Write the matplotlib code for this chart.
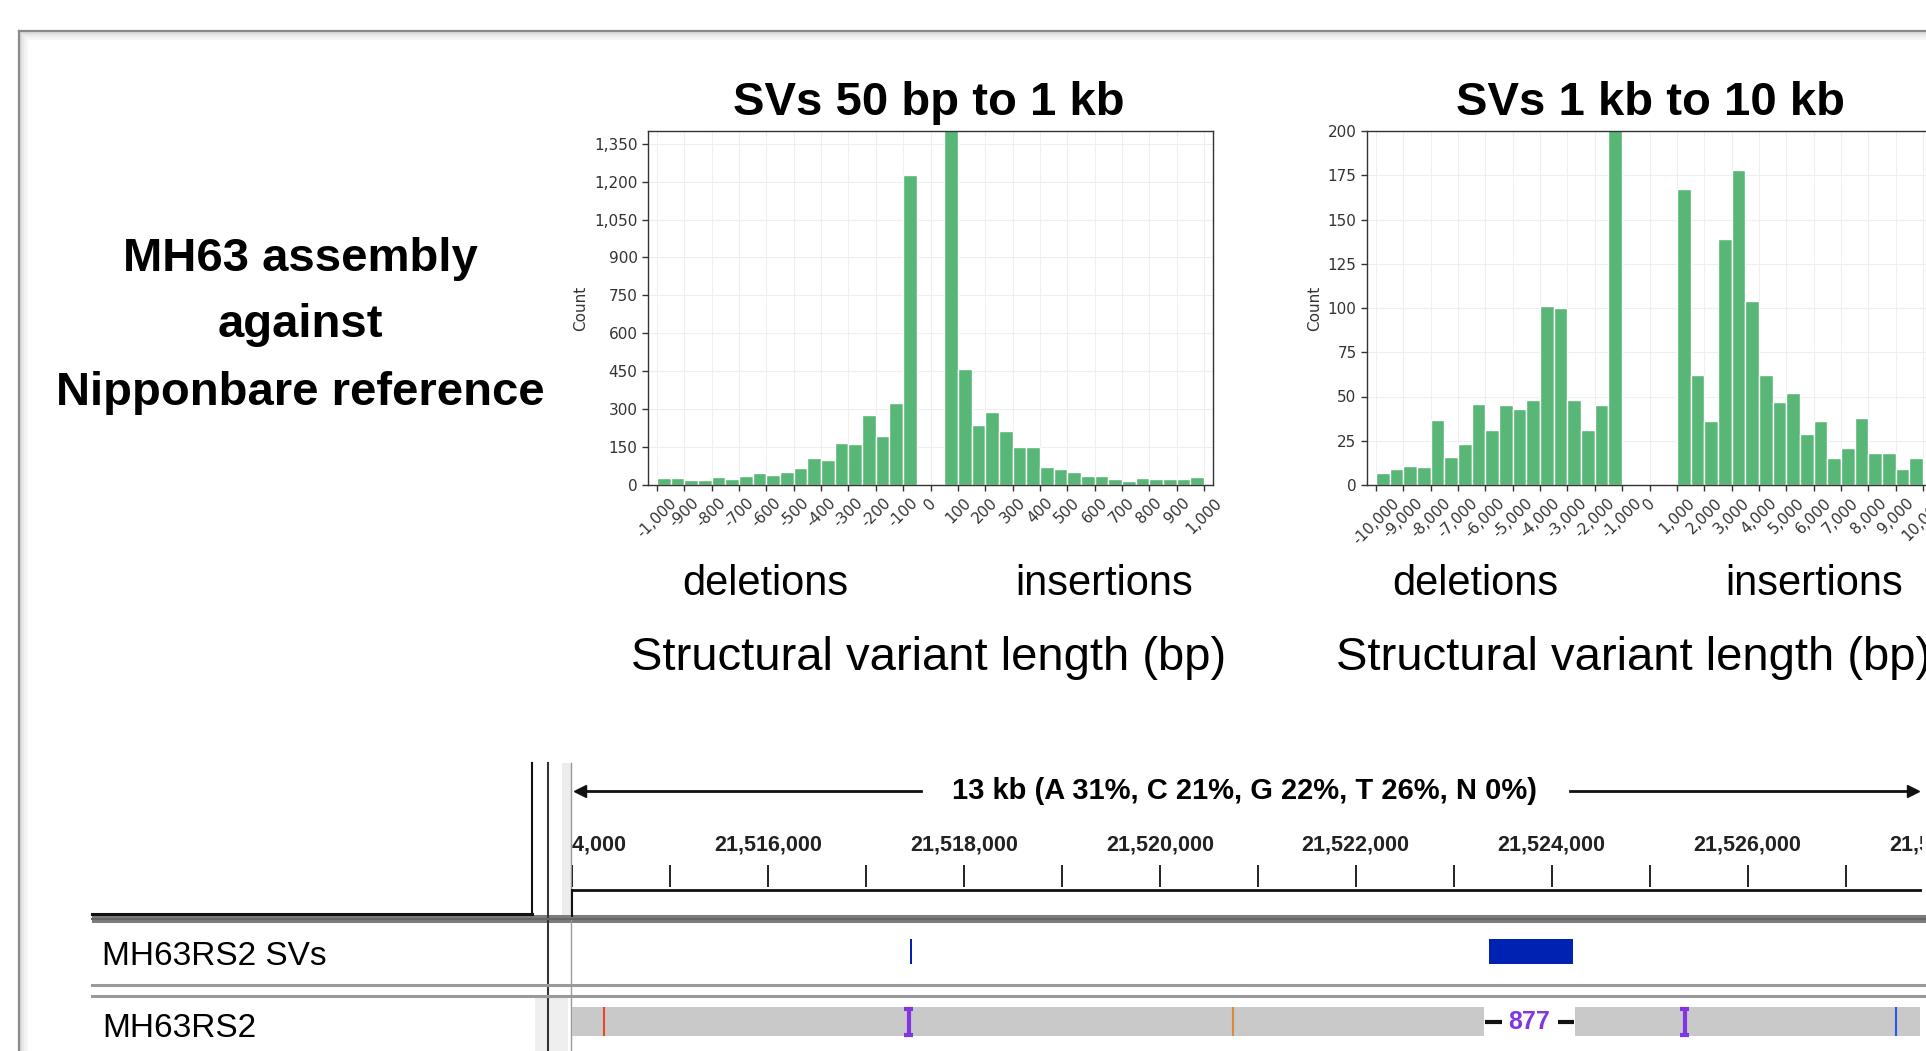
import numpy as np
import matplotlib
matplotlib.use('Agg')
import matplotlib.pyplot as plt
from matplotlib.ticker import FuncFormatter, MultipleLocator

# histogram counts, 50 bp bins (deletions -1000..-50, insertions 50..1000)
small_del_counts = [26, 26, 18, 18, 32, 22, 37, 46, 41, 51, 66, 108, 99, 166, 161, 277, 195, 324, 1226]
small_ins_counts = [1600, 459, 239, 290, 214, 150, 150, 70, 65, 51, 37, 37, 22, 17, 26, 22, 22, 22, 32]
# 500 bp bins (deletions -10000..-1000, insertions 1000..10000)
large_del_counts = [7, 9, 11, 10, 37, 16, 23, 46, 31, 45, 43, 48, 101, 100, 48, 31, 45, 260]
large_ins_counts = [167, 62, 36, 139, 178, 104, 62, 47, 52, 29, 36, 15, 21, 38, 18, 18, 9, 15]

# IGV view
view_start, view_end = 21514000, 21527780
ruler_label = '13 kb (A 31%, C 21%, G 22%, T 26%, N 0%)'
sv_starts = [21517455, 21523365]
sv_ends = [21517470, 21524215]
aln_blocks = [(21514000, 21523310), (21524240, 21527760)]
gap_label = '877'
mismatch_pos = [21514330, 21520748, 21527510]
mismatch_col = ['#e8452a', '#d98a3a', '#2a55e0']
ins_pos = [21517435, 21525358]

W, H = 1926, 1051
GREEN = '#58b677'
PURPLE = '#8236e2'
ARIAL = 'Liberation Sans'

fig = plt.figure(figsize=(W / 100, H / 100), dpi=100)


def px_axes(x0, y0, x1, y1):
    return fig.add_axes([x0 / W, 1 - y1 / H, (x1 - x0) / W, (y1 - y0) / H])


# background / overlay axes in pixel coordinates
bg = px_axes(0, 0, W, H)
bg.set_xlim(0, W)
bg.set_ylim(H, 0)
bg.axis('off')

# slide frame with soft shadow
for off, c in [(2, '#dcdcdc'), (4, '#e8e8e8'), (6, '#f1f1f1'), (8, '#f7f7f7')]:
    bg.plot([19 + off, W], [31 + off, 31 + off], color=c, lw=1.5)
    bg.plot([19 + off, 19 + off], [31 + off, H], color=c, lw=1.5)
bg.plot([19, W], [31, 31], color='#8a8a8a', lw=1.6)
bg.plot([19, 19], [31, H], color='#8a8a8a', lw=1.6)

# left caption
for txt, yb in [('MH63 assembly', 271), ('against', 337), ('Nipponbare reference', 405)]:
    bg.text(300, yb, txt, ha='center', va='baseline', fontsize=34, fontweight='bold', family=ARIAL)


def fmt(v, pos):
    return f'{int(round(v)):,}'


def hist_panel(ax, del_counts, ins_counts, width, del_start, ins_start, xmax, xstep, ymax, ystep):
    del_x = del_start + width * np.arange(len(del_counts))
    ins_x = ins_start + width * np.arange(len(ins_counts))
    ax.bar(del_x, del_counts, width=width, align='edge', color=GREEN, edgecolor='white', linewidth=1, zorder=2)
    ax.bar(ins_x, ins_counts, width=width, align='edge', color=GREEN, edgecolor='white', linewidth=1, zorder=2)
    ax.set_xlim(-xmax * 1.033, xmax * 1.033)
    ax.set_ylim(0, ymax)
    ax.xaxis.set_major_locator(MultipleLocator(xstep))
    ax.yaxis.set_major_locator(MultipleLocator(ystep))
    ax.xaxis.set_major_formatter(FuncFormatter(fmt))
    ax.yaxis.set_major_formatter(FuncFormatter(fmt))
    ax.grid(True, color='#efefef', lw=0.8, zorder=0)
    ax.set_axisbelow(True)
    for s in ax.spines.values():
        s.set_color('#333333')
        s.set_linewidth(1)
    ax.tick_params(direction='out', length=4, width=1, color='#333333', labelsize=11, labelcolor='#333333')
    plt.setp(ax.get_xticklabels(), rotation=45)
    ax.set_ylabel('Count', fontsize=11, color='#333333')


ax1 = px_axes(648, 131, 1213, 485)
hist_panel(ax1, small_del_counts, small_ins_counts, 50, -1000, 50, 1000, 100, 1400, 150)
ax2 = px_axes(1367, 131, 1932, 485)
hist_panel(ax2, large_del_counts, large_ins_counts, 500, -10000, 1000, 10000, 1000, 200, 25)

bg.text(929, 115, 'SVs 50 bp to 1 kb', ha='center', va='baseline', fontsize=34, fontweight='bold', family=ARIAL)
bg.text(1650, 115, 'SVs 1 kb to 10 kb', ha='center', va='baseline', fontsize=34, fontweight='bold', family=ARIAL)
for xd, xi in [(765, 1104), (1475, 1814)]:
    bg.text(xd, 595, 'deletions', ha='center', va='baseline', fontsize=30, family=ARIAL)
    bg.text(xi, 595, 'insertions', ha='center', va='baseline', fontsize=30, family=ARIAL)
bg.text(929, 670, 'Structural variant length (bp)', ha='center', va='baseline', fontsize=34, family=ARIAL)
bg.text(1336, 670, 'Structural variant length (bp)', ha='left', va='baseline', fontsize=34, family=ARIAL)

# ---- IGV panel chrome (pixel coords) ----
bg.add_patch(plt.Rectangle((562, 763), 9, 152, color='#ececec', lw=0))
bg.add_patch(plt.Rectangle((535, 997), 33, 54, color='#efefef', lw=0))
bg.plot([532, 532], [763, 915], color='#111111', lw=1.5)
bg.plot([548, 548], [763, H], color='#333333', lw=1.5)
bg.plot([571, 571], [763, H], color='#9a9a9a', lw=1)
bg.plot([572, 572], [890, 916], color='#111111', lw=1.5)
bg.plot([92, 532], [914, 914], color='#111111', lw=2.2)
bg.add_patch(plt.Rectangle((92, 915), W - 92, 8, color='#7c7c7c', lw=0))
bg.plot([92, W], [919, 919], color='#666666', lw=1.5)
bg.plot([92, W], [984.5, 984.5], color='#9a9a9a', lw=2.2)
bg.plot([92, W], [995.5, 995.5], color='#9a9a9a', lw=2.2)
# ruler span arrow
bg.plot([577, 921], [791, 791], color='#111111', lw=2)
bg.plot([1570, 1916], [791, 791], color='#111111', lw=2)
bg.plot([580], [791], marker='<', color='#111111', ms=8)
bg.plot([1913], [791], marker='>', color='#111111', ms=8)
bg.text(1245, 791, ruler_label, ha='center', va='center', fontsize=21, fontweight='bold', family=ARIAL)

bg.text(102, 965, 'MH63RS2 SVs', ha='left', va='baseline', fontsize=24, family=ARIAL)
bg.text(102, 1037, 'MH63RS2', ha='left', va='baseline', fontsize=24, family=ARIAL)

# ---- IGV genomic axes (x in bp, y in pixel rows) ----
gax = px_axes(572, 763, 1922, H)
gax.set_xlim(view_start, view_end)
gax.set_ylim(H, 763)
gax.axis('off')
gax.patch.set_alpha(0)

ticks = np.arange(view_start, view_end + 2000, 1000)
gax.vlines(ticks, 865, 887, color='#111111', lw=1.3)
gax.hlines(890, view_start, view_end, color='#111111', lw=2)
for t in ticks[::2]:
    gax.text(t, 851, f'{t:,}', ha='center', va='baseline', fontsize=15.5, fontweight='bold',
             family=ARIAL, color='#222222', clip_on=True)

gax.broken_barh([(s, e - s) for s, e in zip(sv_starts, sv_ends)], (939, 25), facecolors='#0022b2')

gax.broken_barh([(s, e - s) for s, e in aln_blocks], (1007, 29), facecolors='#c9c9c9')
gap_l, gap_r = aln_blocks[0][1], aln_blocks[1][0]
gax.hlines([1022, 1022], [gap_l + 10, gap_r - 180], [gap_l + 180, gap_r - 10], color='#111111', lw=3)
gax.text((gap_l + gap_r) / 2, 1022, gap_label, ha='center', va='center', fontsize=18,
         fontweight='bold', family=ARIAL, color=PURPLE)
gax.vlines(mismatch_pos, 1007, 1036, colors=mismatch_col, lw=1.5)
gax.vlines(ins_pos, 1008, 1035, color=PURPLE, lw=3)
for p in ins_pos:
    gax.hlines([1008.5, 1034.5], p - 45, p + 45, color=PURPLE, lw=3)

fig.savefig('out.png', dpi=100)
